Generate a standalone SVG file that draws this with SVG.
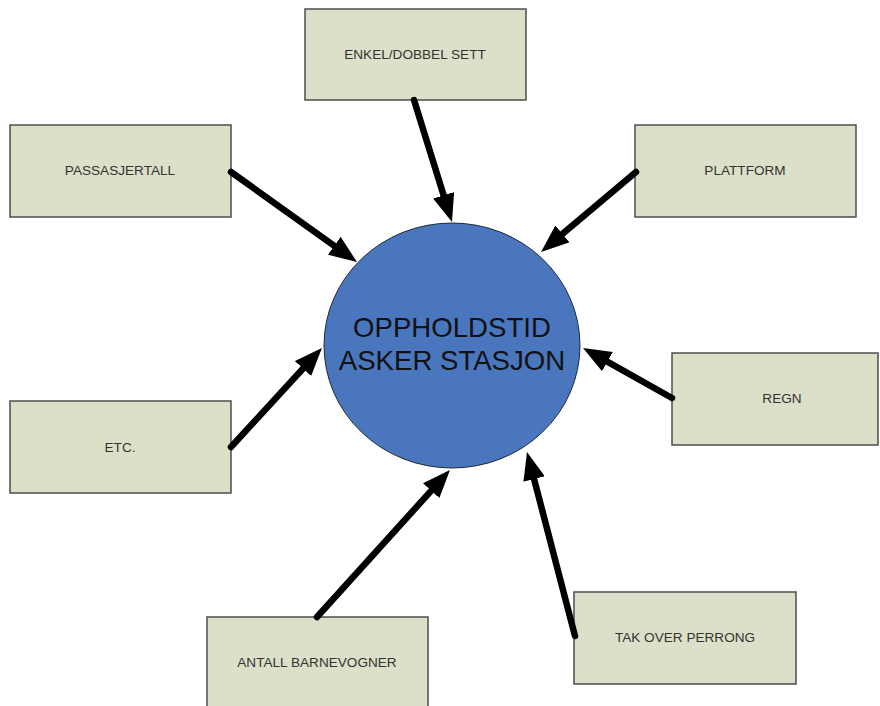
<svg xmlns="http://www.w3.org/2000/svg" width="880" height="706" viewBox="0 0 880 706">
  <style>
    .box rect { fill: #dde0c9; stroke: #4d4d4d; stroke-width: 1.5; }
    .box text { font-family: "Liberation Sans", Arial, sans-serif; font-size: 13.6px; fill: #333333; text-anchor: middle; dominant-baseline: central; }
    .hub text { font-family: "Liberation Sans", Arial, sans-serif; font-size: 27.6px; fill: #111111; text-anchor: middle; }
    .conn { stroke: #000000; stroke-width: 6.5; stroke-linecap: round; fill: none; marker-end: url(#head); }
  </style>
  <defs>
    <marker id="head" viewBox="0 0 28 22" refX="13" refY="11" markerWidth="28" markerHeight="22" markerUnits="userSpaceOnUse" orient="auto">
      <path d="M0,0 L28,11 L0,22 z" fill="#000000"/>
    </marker>
  </defs>
  <rect width="880" height="706" fill="#ffffff"/>

  <g id="hub" class="hub">
    <ellipse cx="452" cy="345.5" rx="128" ry="122.5" fill="#4a76be" stroke="#1e2a3a" stroke-width="1"/>
    <text x="452" y="337">OPPHOLDSTID</text>
    <text x="452" y="370">ASKER STASJON</text>
  </g>

  <g id="enkel-dobbel" class="box">
    <rect x="305" y="9" width="221" height="91"/>
    <text x="415" y="54">ENKEL/DOBBEL SETT</text>
  </g>
  <g id="passasjertall" class="box">
    <rect x="10" y="125" width="221" height="92"/>
    <text x="120" y="170">PASSASJERTALL</text>
  </g>
  <g id="plattform" class="box">
    <rect x="635" y="125" width="221" height="92"/>
    <text x="745" y="170">PLATTFORM</text>
  </g>
  <g id="regn" class="box">
    <rect x="672" y="353" width="206" height="92"/>
    <text x="782" y="398">REGN</text>
  </g>
  <g id="etc" class="box">
    <rect x="10" y="401" width="221" height="92"/>
    <text x="120" y="447">ETC.</text>
  </g>
  <g id="barnevogner" class="box">
    <rect x="207" y="617" width="221" height="100"/>
    <text x="317" y="662">ANTALL BARNEVOGNER</text>
  </g>
  <g id="tak" class="box">
    <rect x="574" y="592" width="222" height="92"/>
    <text x="685" y="637">TAK OVER PERRONG</text>
  </g>

  <g id="connectors">
    <line class="conn" x1="414" y1="100" x2="447.5" y2="207.7"/>
    <line class="conn" x1="231" y1="172" x2="344.8" y2="253.3"/>
    <line class="conn" x1="636" y1="172" x2="552.5" y2="242.3"/>
    <line class="conn" x1="672" y1="398" x2="596.1" y2="355.3"/>
    <line class="conn" x1="231" y1="447" x2="311.8" y2="359"/>
    <line class="conn" x1="317" y1="617" x2="439.9" y2="481.1"/>
    <line class="conn" x1="575" y1="636" x2="530.8" y2="466.5"/>
  </g>
</svg>
